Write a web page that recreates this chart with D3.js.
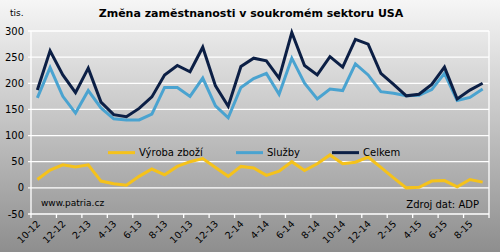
<!DOCTYPE html>
<html>
<head>
<meta charset="utf-8">
<script src="https://cdn.jsdelivr.net/npm/d3@7"></script>
<style>
  body { margin: 0; }
  svg text { font-family: "DejaVu Sans", Verdana, sans-serif; fill: #000; }
</style>
</head>
<body>
<div id="chart"></div>
<script>
// data (tis., month-on-month change)
var months = ["10-12","11-12","12-12","1-13","2-13","3-13","4-13","5-13","6-13","7-13","8-13","9-13",
    "10-13","11-13","12-13","1-14","2-14","3-14","4-14","5-14","6-14","7-14","8-14","9-14",
    "10-14","11-14","12-14","1-15","2-15","3-15","4-15","5-15","6-15","7-15","8-15","9-15"];
var vyroba = [16, 34, 44, 40, 44, 13, 8, 5, 22, 36, 25, 41, 50, 56, 39, 22, 41, 38,
    24, 32, 50, 33, 46, 63, 46, 49, 59, 39, 19, 0, 1, 13, 14, 2, 16, 11];
var sluzby = [172, 230, 175, 143, 186, 153, 132, 130, 130, 141, 192, 192, 175, 210, 157, 134, 192, 209,
    219, 179, 248, 200, 170, 189, 186, 237, 216, 184, 181, 176, 177, 188, 219, 167, 173, 189];
var celkem = [187, 262, 216, 182, 229, 164, 140, 136, 152, 174, 216, 234, 222, 269, 195, 156, 232, 248,
    243, 210, 297, 234, 216, 251, 231, 284, 275, 219, 198, 176, 179, 198, 231, 170, 187, 200];
var yTicks = [-50, 0, 50, 100, 150, 200, 250, 300];
var seriesNames = ["Výroba zboží", "Služby", "Celkem"];
var seriesColors = ["#f5c21b", "#4aa3d0", "#0c1f45"];

var svgWidth = 500;
var svgHeight = 252;
var margin = { top: 31, right: 11, bottom: 38, left: 31 };
var width = svgWidth - margin.left - margin.right;
var height = svgHeight - margin.top - margin.bottom;

var svg = d3.select("#chart")
    .append("svg")
    .attr("width", svgWidth)
    .attr("height", svgHeight);

// background gradient
var grad = svg.append("defs").append("linearGradient")
    .attr("id", "bg")
    .attr("x1", 0).attr("y1", 0).attr("x2", 0).attr("y2", 1);
grad.append("stop").attr("offset", "0%").attr("stop-color", "#f6f6f6");
grad.append("stop").attr("offset", "100%").attr("stop-color", "#8e8e8e");

svg.append("rect")
    .attr("width", svgWidth)
    .attr("height", svgHeight)
    .attr("fill", "url(#bg)");

var chartGroup = svg.append("g")
    .attr("transform", `translate(${margin.left}, ${margin.top})`);

var x = d3.scaleBand()
    .domain(months)
    .range([0, width])
    .padding(0);

var y = d3.scaleLinear()
    .domain([-50, 300])
    .range([height, 0]);

// gridlines
chartGroup.selectAll(".grid")
    .data(yTicks)
    .enter()
    .append("line")
    .attr("x1", -3)
    .attr("x2", width)
    .attr("y1", d => y(d))
    .attr("y2", d => y(d))
    .attr("stroke", "#fff")
    .attr("stroke-width", 1.3);

// left and right frame lines
chartGroup.append("line")
    .attr("x1", 0).attr("x2", 0)
    .attr("y1", 0).attr("y2", height)
    .attr("stroke", "#fff").attr("stroke-width", 1.3);
chartGroup.append("line")
    .attr("x1", width).attr("x2", width)
    .attr("y1", 0).attr("y2", height)
    .attr("stroke", "#fff").attr("stroke-width", 1.3);

// y labels
chartGroup.selectAll(".ylab")
    .data(yTicks)
    .enter()
    .append("text")
    .attr("x", -7)
    .attr("y", d => y(d))
    .attr("dy", "0.36em")
    .attr("text-anchor", "end")
    .style("font-size", "10px")
    .text(d => d);

// x ticks every second month
var tickMonths = months.filter((m, i) => i % 2 === 0);
chartGroup.selectAll(".xtick")
    .data(tickMonths.concat(["end"]))
    .enter()
    .append("line")
    .attr("x1", d => d === "end" ? width : x(d))
    .attr("x2", d => d === "end" ? width : x(d))
    .attr("y1", height)
    .attr("y2", height + 4)
    .attr("stroke", "#fff")
    .attr("stroke-width", 1.3);

chartGroup.selectAll(".xlab")
    .data(tickMonths)
    .enter()
    .append("text")
    .attr("transform", d => `translate(${x(d) + x.bandwidth() / 2 + 1}, ${height + 8}) rotate(-45)`)
    .attr("text-anchor", "end")
    .attr("dy", "0.35em")
    .style("font-size", "9.5px")
    .text(d => d);

// lines
var allSeries = [vyroba, sluzby, celkem];
var line = d3.line()
    .x((d, i) => x(months[i]) + x.bandwidth() / 2)
    .y(d => y(d));

chartGroup.selectAll(".series")
    .data(allSeries)
    .enter()
    .append("path")
    .attr("d", d => line(d))
    .attr("fill", "none")
    .attr("stroke", (d, i) => seriesColors[i])
    .attr("stroke-width", 3)
    .attr("stroke-linejoin", "miter");

// legend
var legendX = [77, 205, 301];
var legend = chartGroup.selectAll(".legend")
    .data(seriesNames)
    .enter()
    .append("g")
    .attr("transform", (d, i) => `translate(${legendX[i]}, ${y(75) + 4})`);
legend.append("line")
    .attr("x1", 0).attr("x2", 27)
    .attr("stroke", (d, i) => seriesColors[i])
    .attr("stroke-width", 3);
legend.append("text")
    .attr("x", 31)
    .attr("dy", "0.36em")
    .style("font-size", "10px")
    .text(d => d);

// title and notes
svg.append("text")
    .attr("x", 251)
    .attr("y", 17)
    .attr("text-anchor", "middle")
    .style("font-size", "11px")
    .style("font-weight", "bold")
    .text("Změna zaměstnanosti v soukromém sektoru USA");

svg.append("text")
    .attr("x", 10)
    .attr("y", 16)
    .style("font-size", "9px")
    .text("tis.");

svg.append("text")
    .attr("x", 41)
    .attr("y", 206)
    .style("font-size", "9px")
    .text("www.patria.cz");

svg.append("text")
    .attr("x", 479)
    .attr("y", 208)
    .attr("text-anchor", "end")
    .style("font-size", "10px")
    .text("Zdroj dat: ADP");
</script>
</body>
</html>
